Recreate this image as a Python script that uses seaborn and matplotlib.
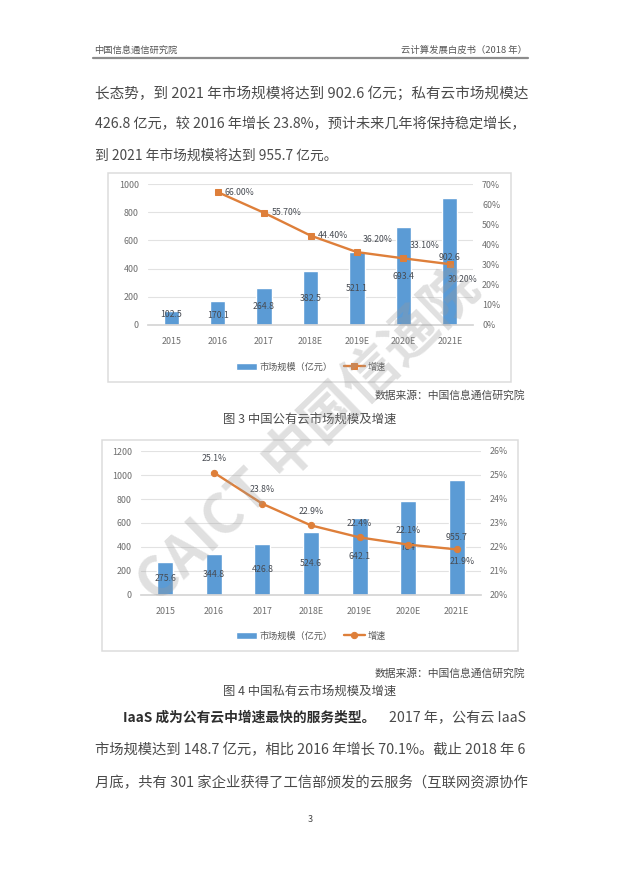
import matplotlib
matplotlib.use('Agg')
import matplotlib.pyplot as plt
import seaborn as sns
from matplotlib.patches import Rectangle

# 数据
years = ['2015', '2016', '2017', '2018E', '2019E', '2020E', '2021E']
public_size = [102.5, 170.1, 264.8, 382.5, 521.1, 693.4, 902.6]
public_growth = [None, 66.0, 55.7, 44.4, 36.2, 33.1, 30.2]
private_size = [275.6, 344.8, 426.8, 524.6, 642.1, 784, 955.7]
private_growth = [None, 25.1, 23.8, 22.9, 22.4, 22.1, 21.9]
public_ticks = [0, 200, 400, 600, 800, 1000]
public_rticks = [0, 10, 20, 30, 40, 50, 60, 70]
private_ticks = [0, 200, 400, 600, 800, 1000, 1200]
private_rticks = [20, 21, 22, 23, 24, 25, 26]

W, H = 620, 877
BLUE = '#5B9BD5'
ORANGE = '#DE7F3A'
INK = '#4a4a4a'
LABEL = '#474b52'

sns.set_theme(style='white')
plt.rcParams['font.family'] = ['Noto Sans CJK SC', 'DejaVu Sans']

fig = plt.figure(figsize=(W / 100, H / 100), dpi=100, facecolor='white')


def fx(x):
    return x / W


def fy(y):
    return 1 - y / H


def put(s, x, y, width=None, size=11, ha='left', color=INK, weight='normal'):
    # width를 주면 폭에 맞게 글자 크기를 조정
    t = fig.text(fx(x), fy(y), s, fontsize=size, ha=ha, va='center', color=color, fontweight=weight)
    if width:
        w = t.get_window_extent(fig.canvas.get_renderer()).width
        t.set_fontsize(size * width / w)
    return t


def draw_chart(box, plot, size, growth, ticks, rticks, rfmt, marker, line_offsets, bar_offsets, legend_xy):
    fig.add_artist(Rectangle((fx(box[0]), fy(box[3])), (box[2] - box[0]) / W, (box[3] - box[1]) / H,
                             transform=fig.transFigure, fc='white', ec='#dcdcdc', lw=1.1, zorder=-1))
    ax = fig.add_axes([fx(plot[0]), fy(plot[3]), (plot[2] - plot[0]) / W, (plot[3] - plot[1]) / H])
    ax.patch.set_alpha(0)
    sns.barplot(x=years, y=size, color=BLUE, saturation=1, width=0.33, ax=ax)
    ax.set_ylim(ticks[0], ticks[-1])
    ax.set_xlim(-0.5, 6.5)
    ax.set_yticks(ticks)
    ax.grid(axis='y', color='#e2e2e2', lw=0.8)
    ax.set_axisbelow(True)
    ax.tick_params(axis='x', length=0, labelsize=6.4, labelcolor='#6e6e6e', pad=9)
    ax.tick_params(axis='y', length=0, labelsize=6.4, labelcolor='#6e6e6e', pad=6.5)
    sns.despine(ax=ax, left=True, right=True, top=True)
    ax.spines['bottom'].set_color('#d5d5d5')

    labels = ax.bar_label(ax.containers[0], fmt='%g', label_type='center', fontsize=6.3, color=LABEL)
    for t, dy in zip(labels, bar_offsets):
        t.xyann = (0, dy)

    ax2 = ax.twinx()
    ax2.patch.set_alpha(0)
    sns.lineplot(x=years, y=growth, color=ORANGE, lw=1.7, marker=marker, markersize=4.5,
                 markeredgecolor=ORANGE, sort=False, errorbar=None, ax=ax2)
    ax2.set_ylim(rticks[0], rticks[-1])
    ax2.set_yticks(rticks)
    ax2.set_yticklabels([f'{v}%' for v in rticks])
    ax2.grid(False)
    ax2.tick_params(axis='y', length=0, labelsize=6.4, labelcolor='#6e6e6e', pad=6.5)
    sns.despine(ax=ax2, left=True, right=True, top=True, bottom=True)

    for i, v in enumerate(growth):
        if v is None:
            continue
        ax2.annotate(rfmt % v, (i, v), xytext=line_offsets[i - 1], textcoords='offset points',
                     ha='center', va='center', fontsize=6.3, color=LABEL)

    fig.legend([ax.containers[0], ax2.lines[0]], ['市场规模\uff08亿元\uff09', '增速'], loc='center',
               bbox_to_anchor=(fx(legend_xy[0]), fy(legend_xy[1])), ncols=2, frameon=False, fontsize=6.6,
               labelcolor='#595959', handlelength=2.3, handleheight=0.8, columnspacing=1.2, handletextpad=0.3)


# 页眉
put('中国信息通信研究院', 94, 50, width=84, size=7, color='#555555')
put('云计算发展白皮书\uff082018 年\uff09', 527, 50, width=126, size=7, ha='right', color='#555555')
fig.add_artist(plt.Line2D([fx(93), fx(528)], [fy(58), fy(58)], color='#8c8c8c', lw=1.6))

# 正文
put('长态势\uff0c到 2021 年市场规模将达到 902.6 亿元\uff1b私有云市场规模达', 95, 93, width=431)
put('426.8 亿元\uff0c较 2016 年增长 23.8%\uff0c预计未来几年将保持稳定增长\uff0c', 95, 124, width=431)
put('到 2021 年市场规模将达到 955.7 亿元。', 95, 156, width=242)

# 图 3 公有云
draw_chart((108, 173, 511, 382), (148, 184, 473, 325), public_size, public_growth, public_ticks, public_rticks,
           '%.2f%%', 's', [(16, 0), (16, 0), (16, 0), (15, 9), (15, 9), (9, -11)],
           [2.5, -2, 0, 0, 0, 0, 2.5], (311, 367))
put('数据来源\uff1a中国信息通信研究院', 525, 395, width=152, size=7, ha='right')
put('图 3 中国公有云市场规模及增速', 310, 420, width=173, size=9, ha='center')

# 图 4 私有云
draw_chart((102, 440, 518, 651), (141, 451, 481, 595), private_size, private_growth, private_ticks, private_rticks,
           '%.1f%%', 'o', [(0, 10), (0, 10), (0, 10), (0, 10), (0, 10), (4, -9)],
           [0, 0, 0, 0, 0, 0, 0], (311, 636))
put('数据来源\uff1a中国信息通信研究院', 525, 673, width=152, size=7, ha='right')
put('图 4 中国私有云市场规模及增速', 310, 692, width=173, size=9, ha='center')

# 下方正文
put('IaaS 成为公有云中增速最快的服务类型。', 123, 718, width=252, weight='bold', color='#2e2e2e')
put('2017 年\uff0c公有云 IaaS', 389, 718, width=137)
put('市场规模达到 148.7 亿元\uff0c相比 2016 年增长 70.1%。截止 2018 年 6', 95, 750, width=431)
put('月底\uff0c共有 301 家企业获得了工信部颁发的云服务\uff08互联网资源协作', 95, 783, width=431)
put('3', 310, 820, size=6.5, ha='center', color='#444444')

# 水印
fig.text(fx(310), fy(437), 'CAICT 中国信通院', rotation=44, rotation_mode='anchor', ha='center', va='center',
         fontsize=40, fontweight='bold', color='#9a9a9a', alpha=0.3, zorder=20)

fig.savefig('out.png', dpi=100)
